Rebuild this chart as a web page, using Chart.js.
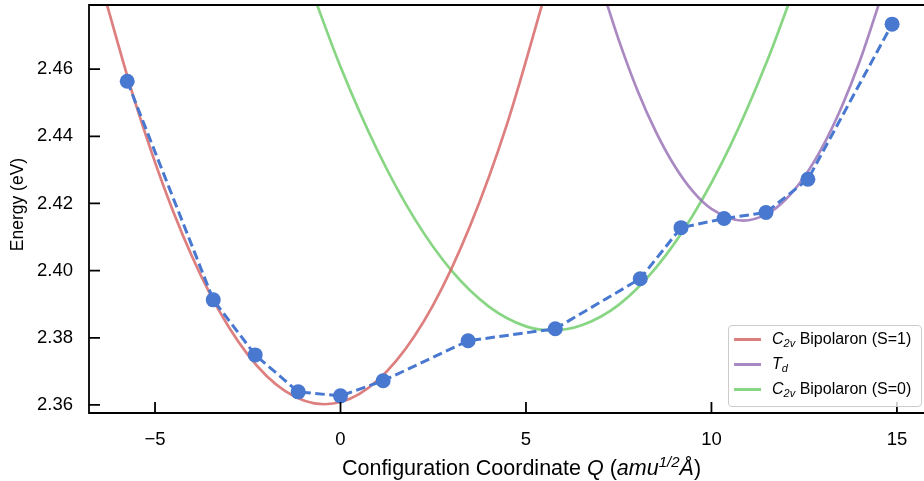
<!DOCTYPE html>
<html>
<head>
<meta charset="utf-8">
<script src="https://cdn.jsdelivr.net/npm/chart.js@4.4.1/dist/chart.umd.min.js"></script>
<style>
  html, body { margin: 0; background: #fff; overflow: hidden; font-family: "Liberation Sans", Arial, sans-serif; }
  #wrap { position: relative; width: 924px; height: 481px; overflow: hidden; }
  #xtitle { position: absolute; left: 0; width: 1043px; top: 455px; text-align: center; font-size: 21.5px; line-height: 26px; color: #000; white-space: nowrap; }
  #xtitle sup { font-size: 15px; vertical-align: 8px; line-height: 0; }
  #legend { position: absolute; left: 728px; top: 325px; width: 192px; height: 80px; border: 1px solid #cccccc; border-radius: 4px; background: rgba(255,255,255,0.8); font-size: 16px; color: #000; }
  .row { position: absolute; left: 5px; height: 20px; line-height: 20px; white-space: nowrap; }
  .swatch { display: inline-block; width: 27px; height: 3px; vertical-align: middle; margin-right: 11px; }
  .row sub { font-size: 11px; vertical-align: -3px; line-height: 0; }
</style>
</head>
<body>
<div id="wrap">
  <canvas id="myChart"></canvas>
  <div id="xtitle">Configuration Coordinate <i>Q</i> (<i>amu<sup>1/2</sup>Å</i>)</div>
  <div id="legend">
    <div class="row" style="top:3px"><span class="swatch" style="background:rgba(214,95,95,0.8)"></span><i>C</i><sub><i>2v</i></sub> Bipolaron (S=1)</div>
    <div class="row" style="top:28px"><span class="swatch" style="background:rgba(149,108,180,0.8)"></span><i>T</i><sub><i>d</i></sub></div>
    <div class="row" style="top:53px"><span class="swatch" style="background:rgba(106,204,100,0.8)"></span><i>C</i><sub><i>2v</i></sub> Bipolaron (S=0)</div>
  </div>
</div>
<script>
// computed energies along the path
const pathQ = [-5.75, -3.43, -2.30, -1.14, 0.00, 1.15, 3.44, 5.79, 8.08, 9.18, 10.34, 11.47, 12.60, 14.87];
const pathE = [2.4564, 2.3913, 2.3749, 2.3639, 2.3627, 2.3672, 2.3791, 2.3827, 2.3976, 2.4128, 2.4155, 2.4173, 2.4272, 2.4734];

// fitted curves
const s1Q = [-6.4, -5.5, -4.5, -3.5, -2.5, -1.5, -0.43, 0.5, 1.5, 2.5, 3.5, 4.5, 5.6];
const s1E = [2.4832, 2.4489, 2.4173, 2.3927, 2.3750, 2.3642, 2.3602, 2.3632, 2.3731, 2.3898, 2.4135, 2.4440, 2.4856];

const tdQ = [7.1, 7.5, 8.0, 8.5, 9.0, 9.5, 10.0, 10.85, 11.5, 12.0, 12.5, 13.0, 13.5, 14.0, 14.6];
const tdE = [2.4823, 2.4687, 2.4538, 2.4414, 2.4313, 2.4236, 2.4184, 2.4149, 2.4169, 2.4212, 2.4279, 2.4370, 2.4485, 2.4624, 2.4823];

const s0Q = [-0.8, 0, 1, 2, 3, 4, 5, 5.72, 6.5, 7.5, 8.5, 9.5, 10.5, 11.5, 12.3];
const s0E = [2.4842, 2.4607, 2.4357, 2.4154, 2.3999, 2.3893, 2.3834, 2.3822, 2.3837, 2.3898, 2.4008, 2.4165, 2.4370, 2.4624, 2.4861];

const xTicks = [-5, 0, 5, 10, 15];
const yTicks = [2.36, 2.38, 2.40, 2.42, 2.44, 2.46];

function pts(xs, ys) {
  return xs.map((x, i) => ({ x: x, y: ys[i] }));
}

const FONT = "'Liberation Sans', Arial, sans-serif";

// matplotlib-like spines, inward ticks and y label
const spines = {
  id: 'spines',
  afterDatasetsDraw(chart) {
    const ctx = chart.ctx;
    const a = chart.chartArea;
    const xs = chart.scales.x, ys = chart.scales.y;
    ctx.save();
    ctx.strokeStyle = '#000';
    ctx.lineWidth = 1.8;
    ctx.beginPath();
    ctx.moveTo(chart.width, a.top); ctx.lineTo(a.left, a.top);
    ctx.lineTo(a.left, a.bottom); ctx.lineTo(chart.width, a.bottom);
    ctx.stroke();
    ctx.beginPath();
    xTicks.forEach(v => {
      const px = xs.getPixelForValue(v);
      ctx.moveTo(px, a.bottom); ctx.lineTo(px, a.bottom - 11);
    });
    yTicks.forEach(v => {
      const py = ys.getPixelForValue(v);
      ctx.moveTo(a.left, py); ctx.lineTo(a.left + 11, py);
    });
    ctx.stroke();

    ctx.translate(18, (a.top + a.bottom) / 2 - 4.5);
    ctx.rotate(-Math.PI / 2);
    ctx.fillStyle = '#000';
    ctx.font = '17.5px ' + FONT;
    ctx.textAlign = 'center';
    ctx.textBaseline = 'middle';
    ctx.fillText('Energy (eV)', 0, 0);
    ctx.restore();
  }
};

function noPad(s) {
  s.paddingTop = 0; s.paddingBottom = 0; s.paddingLeft = 0; s.paddingRight = 0;
}

var ctx = document.getElementById('myChart').getContext('2d');
var myChart = new Chart(ctx, {
  type: 'line',
  data: {
    datasets: [
      {
        label: 'path',
        data: pts(pathQ, pathE),
        borderColor: '#4878d0',
        backgroundColor: '#4878d0',
        borderWidth: 3,
        borderDash: [9.5, 4.5],
        pointRadius: 7.5,
        pointBorderWidth: 0,
        tension: 0,
        order: 0,
      },
      {
        label: 'C2v Bipolaron (S=1)',
        data: pts(s1Q, s1E),
        borderColor: 'rgba(214,95,95,0.8)',
        borderWidth: 2.7,
        pointRadius: 0,
        cubicInterpolationMode: 'monotone',
        order: 1,
      },
      {
        label: 'Td',
        data: pts(tdQ, tdE),
        borderColor: 'rgba(149,108,180,0.8)',
        borderWidth: 2.7,
        pointRadius: 0,
        cubicInterpolationMode: 'monotone',
        order: 2,
      },
      {
        label: 'C2v Bipolaron (S=0)',
        data: pts(s0Q, s0E),
        borderColor: 'rgba(106,204,100,0.8)',
        borderWidth: 2.7,
        pointRadius: 0,
        cubicInterpolationMode: 'monotone',
        order: 3,
      },
    ]
  },
  options: {
    responsive: true,
    maintainAspectRatio: false,
    animation: false,
    layout: { autoPadding: false, padding: { top: 5, right: 0, left: 0, bottom: 0 } },
    plugins: { legend: { display: false }, tooltip: { enabled: false } },
    scales: {
      x: {
        type: 'linear',
        offset: false,
        min: -6.78,
        max: 15.73,
        grid: { display: false, drawTicks: false },
        border: { display: false },
        afterBuildTicks: s => { s.ticks = xTicks.map(v => ({ value: v })); },
        afterFit: s => { s.height = 68; noPad(s); },
        ticks: {
          padding: 16,
          color: '#000',
          font: { family: FONT, size: 18.5 },
          callback: v => String(v).replace('-', '\u2212'),
        },
      },
      y: {
        min: 2.3576,
        max: 2.4791,
        grid: { display: false, drawTicks: false },
        border: { display: false },
        afterBuildTicks: s => { s.ticks = yTicks.map(v => ({ value: v })); },
        afterFit: s => { s.width = 89; noPad(s); },
        ticks: {
          padding: 16,
          color: '#000',
          font: { family: FONT, size: 18.5 },
          callback: v => v.toFixed(2),
        },
      },
    },
  },
  plugins: [spines],
});
</script>
</body>
</html>
